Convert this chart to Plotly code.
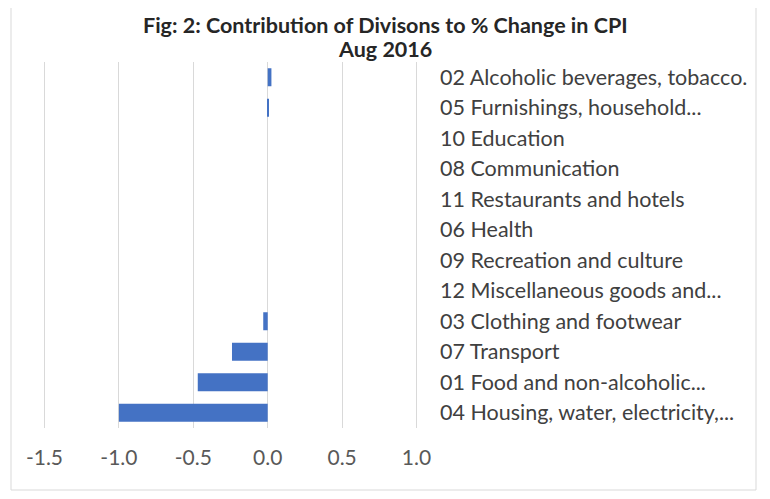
import plotly.graph_objects as go

categories = [
    "02 Alcoholic beverages, tobacco.",
    "05 Furnishings, household...",
    "10 Education",
    "08 Communication",
    "11 Restaurants and hotels",
    "06 Health",
    "09 Recreation and culture",
    "12 Miscellaneous goods and...",
    "03 Clothing and footwear",
    "07 Transport",
    "01 Food and non-alcoholic...",
    "04 Housing, water, electricity,...",
]
values = [0.025, 0.005, 0.0, 0.0, 0.0, 0.0, 0.0, 0.0, -0.03, -0.24, -0.47, -1.0]
x_ticks = [-1.5, -1.0, -0.5, 0.0, 0.5, 1.0]
x_tick_labels = ["-1.5", "-1.0", "-0.5", "0.0", "0.5", "1.0"]
title_line1 = "Fig: 2: Contribution of Divisons to % Change in CPI"
title_line2 = "Aug 2016"

# page body has an 8px margin, so the figure is drawn from (8, 8)
OFF = 8
W, H = 770 - OFF, 499 - OFF
ml, mr, mt, mb = 35, 352, 54, 71

fig = go.Figure(
    go.Bar(
        x=values,
        y=categories,
        orientation="h",
        marker=dict(color="#4472C4", line=dict(width=0)),
    )
)

pw = W - ml - mr
ph = H - mt - mb

def px_x(px):
    return (px - OFF - ml) / pw

def px_y(py):
    return (H - mb - (py - OFF)) / ph

fig.update_layout(
    width=W,
    height=H,
    margin=dict(l=ml, r=mr, t=mt, b=mb, pad=0),
    paper_bgcolor="white",
    plot_bgcolor="white",
    bargap=0.41,
    showlegend=False,
    font=dict(family="Lato", color="#404040"),
    xaxis=dict(
        range=[-1.51, 1.01],
        tickvals=x_ticks,
        ticktext=x_tick_labels,
        showgrid=True,
        gridcolor="#D9D9D9",
        gridwidth=1,
        zeroline=False,
        showline=False,
        ticks="",
        ticklabelstandoff=15,
        tickfont=dict(family="Lato", size=21, color="#595959"),
        fixedrange=True,
    ),
    yaxis=dict(
        categoryorder="array",
        categoryarray=categories,
        autorange="reversed",
        side="right",
        showgrid=False,
        zeroline=False,
        showline=False,
        ticks="",
        ticklabelstandoff=21,
        tickfont=dict(family="Lato", size=21.5, color="#404040"),
        fixedrange=True,
    ),
    annotations=[
        dict(
            text="<b>" + title_line1 + "</b>",
            xref="paper", yref="paper",
            x=px_x(385), y=px_y(25),
            xanchor="center", yanchor="middle",
            showarrow=False,
            font=dict(family="Lato", size=21.5, color="#262626"),
        ),
        dict(
            text="<b>" + title_line2 + "</b>",
            xref="paper", yref="paper",
            x=px_x(385), y=px_y(48.5),
            xanchor="center", yanchor="middle",
            showarrow=False,
            font=dict(family="Lato", size=21.5, color="#262626"),
        ),
    ],
    shapes=[
        dict(
            type="rect",
            xref="paper",
            yref="paper",
            x0=px_x(11),
            x1=px_x(756),
            y0=px_y(490),
            y1=px_y(6),
            line=dict(color="#D9D9D9", width=1),
            fillcolor="rgba(0,0,0,0)",
            layer="below",
        )
    ],
)

fig.write_html("out.html")
